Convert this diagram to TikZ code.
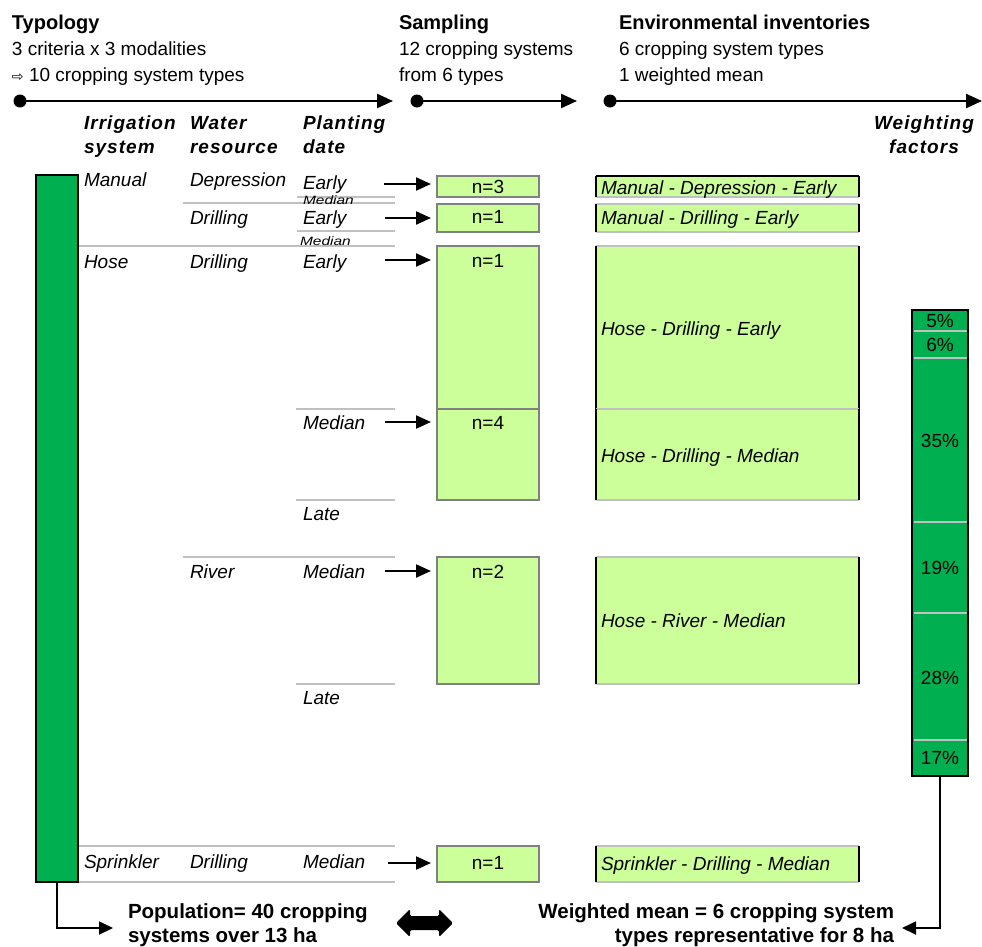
\documentclass[tikz,border=0pt]{standalone}
\usepackage{fontspec}
\usepackage{graphicx}
\setmainfont{Liberation Sans}
\newfontfamily\dejavu{DejaVu Sans}
\newfontfamily\spacedfont{Liberation Sans}[LetterSpace=5.5]
\usetikzlibrary{arrows.meta}
\definecolor{dgreen}{RGB}{0,176,80}
\definecolor{lgreen}{RGB}{204,255,153}
\definecolor{lgray}{RGB}{192,192,192}
\definecolor{mgray}{RGB}{128,128,128}
\newcommand{\smallmed}{\scalebox{1}[0.78]{\fontsize{15.5}{16}\selectfont\itshape Median}}
\begin{document}
\begin{tikzpicture}[x=1pt,y=-1pt,
  every node/.style={inner sep=0pt, outer sep=0pt},
  txt/.style={anchor=base west, font=\fontsize{19}{22}\selectfont},
  itx/.style={anchor=base west, font=\fontsize{19}{22}\selectfont\itshape},
  ctx/.style={anchor=base, font=\fontsize{19}{22}\selectfont},
  ttl/.style={anchor=base west, font=\fontsize{20}{24}\selectfont\bfseries},
  hdr/.style={anchor=base west, font=\spacedfont\fontsize{19}{22}\selectfont\bfseries\itshape},
  hdc/.style={anchor=base, font=\spacedfont\fontsize{19}{22}\selectfont\bfseries\itshape},
  btx/.style={font=\fontsize{20.5}{24}\selectfont\bfseries},
  bar/.style={draw=black, line width=2.8pt, fill=dgreen, anchor=north west},
  sbox/.style={draw=mgray, line width=2.6pt, fill=lgreen, anchor=north west},
  ebox/.style={fill=lgreen, anchor=north west},
  sep/.style={draw=lgray, line width=2.2pt},
  eside/.style={draw=black, line width=2.6pt},
  dot/.style={circle, fill=black, minimum size=13pt},
  tl/.style={line width=2.2pt, -{Triangle[length=16pt,width=14pt]}},
  arr/.style={line width=2.2pt, -{Triangle[length=15pt,width=13pt]}, shorten >=6pt},
  conn/.style={line width=1.8pt, -{Triangle[length=14pt,width=13pt]}}
]
\useasboundingbox (0,0) rectangle (982,946);

% ---------- column titles ----------
\node[ttl] (typ) at (12,29) {Typology};
\node[txt] (typ1) at (12,55) {3 criteria x 3 modalities};
\node[txt] (typ2) at (12,81) {{\dejavu\fontsize{14}{14}\selectfont ⇨} 10 cropping system types};
\node[ttl] (samp) at (399,29) {Sampling};
\node[txt] (samp1) at (399,55) {12 cropping systems};
\node[txt] (samp2) at (399,81) {from 6 types};
\node[ttl] (envt) at (619,29) {Environmental inventories};
\node[txt] (env1) at (619,55) {6 cropping system types};
\node[txt] (env2) at (619,81) {1 weighted mean};

% ---------- timelines ----------
\node[dot] (t1a) at (20,101) {};
\coordinate (t1b) at (393,101);
\draw[tl] (t1a.center) -- (t1b);
\node[dot] (t2a) at (417,101) {};
\coordinate (t2b) at (577,101);
\draw[tl] (t2a.center) -- (t2b);
\node[dot] (t3a) at (610,101) {};
\coordinate (t3b) at (982,101);
\draw[tl] (t3a.center) -- (t3b);

% ---------- criteria headers ----------
\node[hdr] (h1a) at (84,129) {Irrigation};
\node[hdr] (h1b) at (84,153) {system};
\node[hdr] (h2a) at (190,129) {Water};
\node[hdr] (h2b) at (190,153) {resource};
\node[hdr] (h3a) at (303,129) {Planting};
\node[hdr] (h3b) at (303,153) {date};
\node[hdc] (h4a) at (924,129) {Weighting};
\node[hdc] (h4b) at (924,153) {factors};

% ---------- population bar ----------
\node[bar, minimum width=42pt, minimum height=707pt] (gbar) at (36,175) {};

% ---------- separators ----------
\draw[sep] (297,197) -- (395,197);
\draw[sep] (183,203) -- (395,203);
\draw[sep] (297,231) -- (395,231);
\draw[sep] (79,246) -- (395,246);
\draw[sep] (296,409) -- (395,409);
\draw[sep] (296,500) -- (395,500);
\draw[sep] (183,557) -- (395,557);
\draw[sep] (296,684) -- (395,684);
\draw[sep] (79,846) -- (395,846);
\draw[sep] (79,882) -- (395,882);

% ---------- typology texts ----------
\node[itx] (man) at (84,186) {Manual};
\node[itx] (dep) at (190,186) {Depression};
\node[itx] (ea1) at (303,189) {Early};
\node[anchor=base west] (md1) at (303,204) {\smallmed};
\node[itx] (dr1) at (190,224) {Drilling};
\node[itx] (ea2) at (303,224) {Early};
\node[anchor=base west] (md2) at (300,245) {\smallmed};
\node[itx] (hos) at (84,268) {Hose};
\node[itx] (dr2) at (190,268) {Drilling};
\node[itx] (ea3) at (303,268) {Early};
\node[itx] (md3) at (303,429) {Median};
\node[itx] (la1) at (303,520) {Late};
\node[itx] (riv) at (190,578) {River};
\node[itx] (md4) at (303,578) {Median};
\node[itx] (la2) at (303,704) {Late};
\node[itx] (spr) at (84,868) {Sprinkler};
\node[itx] (dr3) at (190,868) {Drilling};
\node[itx] (md5) at (303,868) {Median};

% ---------- sampling boxes ----------
\node[sbox, minimum width=102pt, minimum height=21pt] (s1) at (437,176) {};
\node[sbox, minimum width=102pt, minimum height=28pt] (s2) at (437,204) {};
\node[sbox, minimum width=102pt, minimum height=163pt] (s3) at (437,246) {};
\node[sbox, minimum width=102pt, minimum height=91pt] (s4) at (437,409) {};
\node[sbox, minimum width=102pt, minimum height=127pt] (s5) at (437,557) {};
\node[sbox, minimum width=102pt, minimum height=36pt] (s6) at (437,846) {};
\node[ctx] (n1) at (488,193) {n=3};
\node[ctx] (n2) at (488,223) {n=1};
\node[ctx] (n3) at (488,267) {n=1};
\node[ctx] (n4) at (488,429) {n=4};
\node[ctx] (n5) at (488,578) {n=2};
\node[ctx] (n6) at (488,869) {n=1};

% ---------- arrows to sampling ----------
\coordinate (p1) at (384,184);
\coordinate (p2) at (385,218);
\coordinate (p3) at (385,260);
\coordinate (p4) at (385,422);
\coordinate (p5) at (385,571);
\coordinate (p6) at (388,863);
\draw[arr] (p1) -- (p1 -| s1.west);
\draw[arr] (p2) -- (p2 -| s2.west);
\draw[arr] (p3) -- (p3 -| s3.west);
\draw[arr] (p4) -- (p4 -| s4.west);
\draw[arr] (p5) -- (p5 -| s5.west);
\draw[arr] (p6) -- (p6 -| s6.west);

% ---------- environmental inventory boxes ----------
\foreach \n/\y/\h in {e1/176/21, e2/204/28, e3/246/163, e4/409/91, e5/557/127, e6/846/36}{
  \node[ebox, minimum width=263pt, minimum height=\h pt] (\n) at (596,\y) {};
  \draw[sep] (\n.north west) -- (\n.north east);
  \draw[sep] (\n.south west) -- (\n.south east);
  \draw[eside] (\n.north west) -- (\n.south west);
  \draw[eside] (\n.north east) -- (\n.south east);
}
\draw[eside] (e1.north west) -- (e1.north east);
\node[itx] (et1) at (601,194) {Manual - Depression - Early};
\node[itx] (et2) at (601,224) {Manual - Drilling - Early};
\node[itx] (et3) at (601,335) {Hose - Drilling - Early};
\node[itx] (et4) at (601,462) {Hose - Drilling - Median};
\node[itx] (et5) at (601,627) {Hose - River - Median};
\node[itx] (et6) at (601,870) {Sprinkler - Drilling - Median};

% ---------- weighting factors ----------
\node[bar, minimum width=56pt, minimum height=466pt] (wbar) at (912,310) {};
\foreach \y in {331,358,522,613,740}{
  \draw[draw=lgray, line width=2.2pt] (913.5,\y) -- (966.5,\y);
}
\node[ctx] (w1) at (940,327) {5\%};
\node[ctx] (w2) at (940,351) {6\%};
\node[ctx] (w3) at (940,447) {35\%};
\node[ctx] (w4) at (940,574) {19\%};
\node[ctx] (w5) at (940,684) {28\%};
\node[ctx] (w6) at (940,764) {17\%};

% ---------- bottom statements ----------
\node[btx, anchor=base west] (pop1) at (128,918) {Population= 40 cropping};
\node[btx, anchor=base west] (pop2) at (128,942) {systems over 13 ha};
\node[btx, anchor=base east] (wm1) at (894,918) {Weighted mean = 6 cropping system};
\node[btx, anchor=base east] (wm2) at (894,942) {types representative for 8 ha};

\coordinate (popin) at (113,928);
\draw[conn] (gbar.south) |- (popin);
\coordinate (wmin) at (902,928);
\draw[conn] (wbar.south) |- (wmin);

% ---------- double arrow ----------
\coordinate (dbl) at (424.5,923);
\fill[black, rounded corners=1.5pt, shift={(dbl)}]
  (-28.5,0) -- (-14.5,-14) -- (-14.5,-7) -- (14.5,-7) -- (14.5,-14) -- (28.5,0)
  -- (14.5,14) -- (14.5,7) -- (-14.5,7) -- (-14.5,14) -- cycle;
\end{tikzpicture}
\end{document}
